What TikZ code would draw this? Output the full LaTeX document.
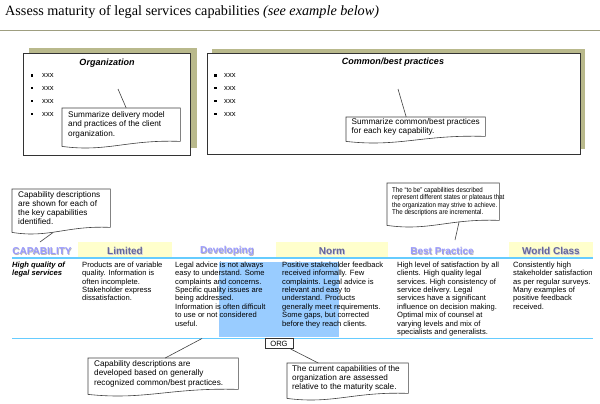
\documentclass[tikz,border=0pt]{standalone}
\usepackage{fontspec}
\setmainfont{Liberation Serif}
\newfontfamily\arial{Liberation Sans}
\newfontfamily\arialn[FakeStretch=0.88]{Liberation Sans}
\usetikzlibrary{calc}
\definecolor{olivesh}{HTML}{B9B98C}
\definecolor{rulecol}{HTML}{9E9E80}
\definecolor{ylw}{HTML}{FFFFCC}
\definecolor{lineblue}{HTML}{66CCFF}
\definecolor{hiblue}{HTML}{99CCFF}
\definecolor{lav}{HTML}{9999FF}
\definecolor{slate}{HTML}{666699}
\definecolor{shadlt}{HTML}{B8B8B8}
\definecolor{shaddk}{HTML}{C8C8E0}
\tikzset{
  body/.style={font=\arial\fontsize{7.6}{8.4}\selectfont, align=left, anchor=north west, inner sep=0pt},
  bodybi/.style={body, font=\arial\bfseries\itshape\fontsize{7.6}{8.4}\selectfont},
  callbox/.style={draw=none, inner sep=0pt, anchor=north west},
  calltext/.style={inner sep=0pt, anchor=west, align=left, font=\arial\fontsize{8.2}{9.2}\selectfont},
  callline/.style={draw=black!75, line width=0.6pt},
  ptr/.style={draw=black!75, line width=0.6pt},
  mainbox/.style={draw=black!80, fill=white, line width=0.7pt, anchor=north west, inner sep=0pt},
  shadowbox/.style={fill=olivesh, draw=none, anchor=north west, inner sep=0pt},
  boxtitle/.style={font=\arial\bfseries\itshape\fontsize{9}{10}\selectfont, inner sep=0pt},
  bul/.style={fill=black, draw=none, minimum size=2.2pt, inner sep=0pt},
  xxx/.style={font=\arial\fontsize{7.6}{8.4}\selectfont, anchor=west, inner sep=0pt},
  hdr/.style={font=\arial\bfseries\fontsize{10}{11}\selectfont, inner sep=0pt},
  ybox/.style={fill=ylw, draw=none, inner sep=0pt, minimum height=15pt},
  blueline/.style={draw=lineblue, line width=1.4pt},
  tag/.style={draw=black!80, line width=0.6pt, fill=white, inner sep=0pt, minimum width=28pt, minimum height=10pt, font=\arial\fontsize{7.6}{8}\selectfont},
}
% #1 name, #2 x1, #3 y1, #4 x2, #5 y2 (bottom right), #6 left margin, #7 extra style, #8 text
\newcommand\callout[8]{%
  \node[callbox, minimum width={(#4-#2)*1pt}, minimum height={(#5-#3)*1pt}] (#1) at (#2,#3) {};
  \node[calltext, #7] (#1t) at ($(#1.west)+(#6,0)$) {#8};
  \draw[callline] (#1.north west) -- (#1.north east) -- (#1.south east)
    .. controls ($(#1.south east)!0.45!(#1.south west)+(0,-2)$) and ($(#1.south east)!0.62!(#1.south west)+(0,11)$)
    .. ($(#1.south west)+(0,5)$) -- cycle;
}
\newcommand\hdrtext[5]{%
  \node[hdr, text=#4] (#1s) at (#2+0.7,251.7) {#5};
  \node[hdr, text=#3] (#1) at (#2,251) {#5};
}
\begin{document}
\begin{tikzpicture}[x=1pt,y=-1pt]
\useasboundingbox (0,0) rectangle (600,404);
% title
\node[anchor=base west, inner sep=0pt, font=\fontsize{14.2}{16}\selectfont] (title) at (5,15.5)
  {Assess maturity of legal services capabilities \textit{(see example below)}};
\draw[draw=rulecol, line width=0.8pt] (0,30) -- (600,30);

% organization box
\node[shadowbox, minimum width=168pt, minimum height=100pt] (orgsh) at (28.5,48) {};
\node[mainbox, minimum width=167pt, minimum height=101pt] (org) at (23,53.5) {};
\node[boxtitle] (orgt) at (107,63) {Organization};
\foreach \y/\n in {75.5/1, 88.3/2, 101/3, 114/4} {
  \node[bul] (ob\n) at (32,\y) {};
  \node[xxx] (ox\n) at (42,\y) {xxx};
}
% common/best box
\node[shadowbox, minimum width=373pt, minimum height=100pt] (cbsh) at (212,48.5) {};
\node[mainbox, minimum width=373pt, minimum height=100.5pt] (cb) at (207,53.5) {};
\node[boxtitle] (cbt) at (393,62.5) {Common/best practices};
\foreach \y/\n in {75.5/1, 88.3/2, 101/3, 114/4} {
  \node[bul] (cbb\n) at (215.5,\y) {};
  \node[xxx] (cbx\n) at (224,\y) {xxx};
}

% callouts
\callout{c1}{62}{108}{180}{141}{6}{}{Summarize delivery model\\and practices of the client\\organization.}
\coordinate (p1) at (118,89);
\draw[ptr] (p1) -- ([xshift=5pt]c1.north);

\callout{c2}{346}{117}{485}{136}{5.5}{}{Summarize common/best practices\\for each key capability.}
\coordinate (p2) at (398,89);
\draw[ptr] (p2) -- ([xshift=-9.5pt]c2.north);

\callout{c3}{12}{189}{110}{227}{6}{}{Capability descriptions\\are shown for each of\\the key capabilities\\identified.}
\coordinate (p3) at (40,242);
\draw[ptr] (p3) -- ([xshift=-8pt,yshift=-5pt]c3.south);

\callout{c4}{387}{183}{499}{220}{5}{font=\arialn\fontsize{7}{7.5}\selectfont}{The “to be” capabilities described\\represent different states or plateaus that\\the organization may strive to achieve.\\The descriptions are incremental.}
\coordinate (p4) at (455,240);
\draw[ptr] (p4) -- ([xshift=16pt,yshift=-1pt]c4.south);

% header row
\node[ybox, minimum width=94pt] (yLim) at (125,249.5) {};
\node[ybox, minimum width=112pt] (yNorm) at (332,249.5) {};
\node[ybox, minimum width=84pt] (yWC) at (551,249.5) {};
\node[hdr, text=shadlt] (capS) at (42.7,251.7) {CAPABILITY};
\node[hdr, text=lav] (cap) at (42,251) {CAPABILITY};
\hdrtext{hLim}{125}{slate}{shaddk}{Limited}
\hdrtext{hDev}{227}{lav}{shadlt}{Developing}
\hdrtext{hNorm}{332}{slate}{shaddk}{Norm}
\hdrtext{hBP}{442}{lav}{shadlt}{Best Practice}
\hdrtext{hWC}{551}{slate}{shaddk}{World Class}
\draw[blueline] (12,258) -- (593,258);

% highlight
\fill[hiblue] (219,262) rectangle (339,337);

% row
\node[bodybi] (rowl) at (12,261.5) {High quality of\\legal services};
\node[body] (tLim) at (82,261.5) {Products are of variable\\quality.  Information is\\often incomplete.\\Stakeholder express\\dissatisfaction.};
\node[body] (tDev) at (175,261.5) {Legal advice is not always\\easy to understand.  Some\\complaints and concerns.\\Specific quality issues are\\being addressed.\\Information is often difficult\\to use or not considered\\useful.};
\node[body] (tNorm) at (282,261.5) {Positive stakeholder feedback\\received informally.  Few\\complaints.  Legal advice is\\relevant and easy to\\understand.  Products\\generally meet requirements.\\Some gaps, but corrected\\before they reach clients.};
\node[body] (tBP) at (397,261.5) {High level of satisfaction by all\\clients. High quality legal\\services.  High consistency of\\service delivery.  Legal\\services have a significant\\influence on decision making.\\Optimal mix of counsel at\\varying levels and mix of\\specialists and generalists.};
\node[body] (tWC) at (513,261.5) {Consistently high\\stakeholder satisfaction\\as per regular surveys.\\Many examples of\\positive feedback\\received.};
\draw[blueline] (12,338.5) -- (593,338.5);

% ORG tag
\node[tag] (orgtag) at (279,343.5) {ORG};

% bottom callouts
\callout{c5}{88}{358}{238}{389}{6}{}{Capability descriptions are\\developed based on generally\\recognized common/best practices.}
\coordinate (p5) at (202,338.5);
\draw[ptr] (p5) -- ([xshift=2pt]c5.north);

\callout{c6}{287}{363}{408}{393}{5}{}{The current capabilities of the\\organization are assessed\\relative to the maturity scale.}
\draw[ptr] ([xshift=-3pt]orgtag.south east) -- ([xshift=-29.5pt]c6.north);
\end{tikzpicture}
\end{document}
